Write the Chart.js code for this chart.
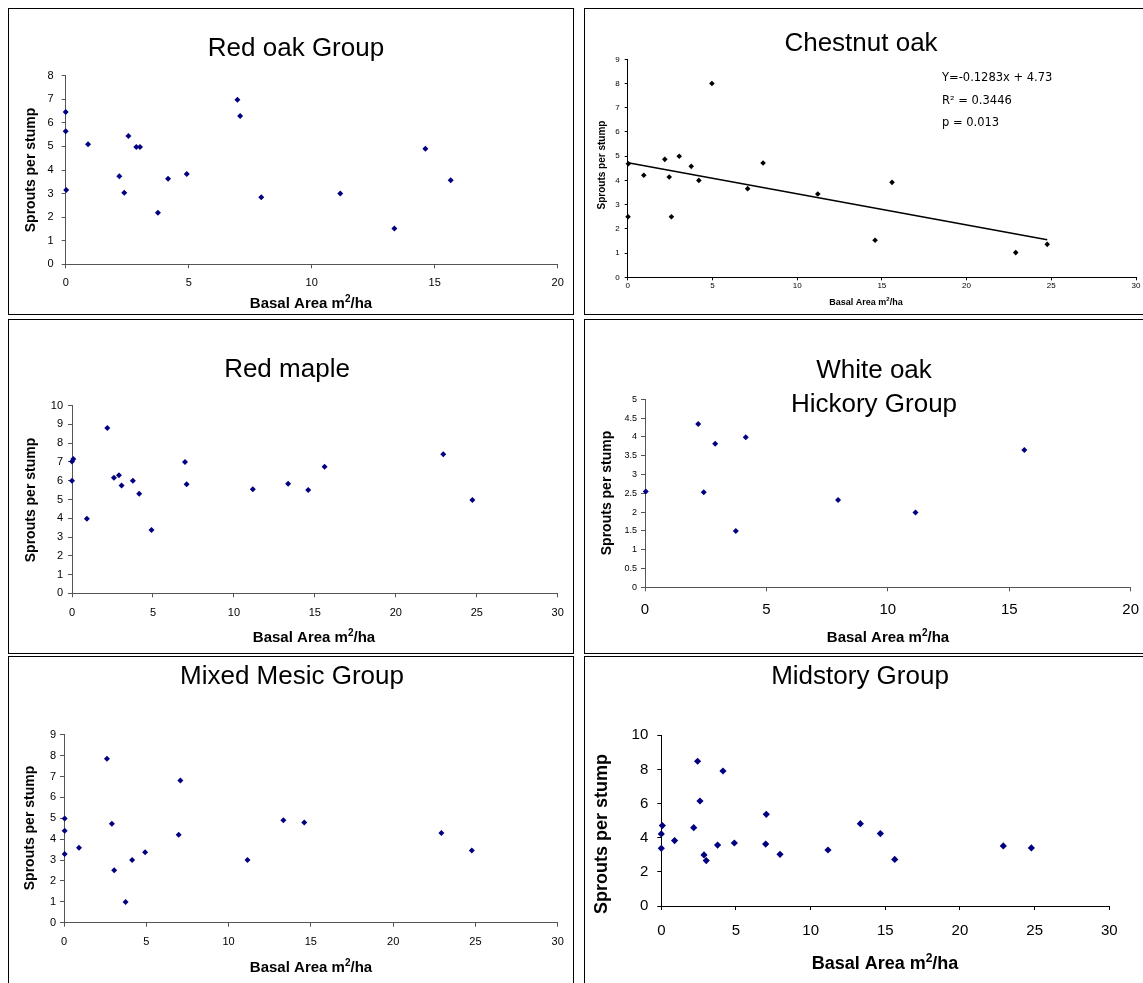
<!DOCTYPE html>
<html>
<head>
<meta charset="utf-8">
<script src="https://cdn.jsdelivr.net/npm/chart.js@4.4.1/dist/chart.umd.min.js"></script>
<style>
  html, body { margin: 0; padding: 0; background: #fff; overflow: hidden; }
  .box { position: absolute; border: 1px solid #000; box-sizing: border-box; }
  .box canvas { position: absolute; left: 0; top: 0; }
</style>
</head>
<body>
<div class="box" id="p1"><canvas></canvas></div>
<div class="box" id="p2"><canvas></canvas></div>
<div class="box" id="p3"><canvas></canvas></div>
<div class="box" id="p4"><canvas></canvas></div>
<div class="box" id="p5"><canvas></canvas></div>
<div class="box" id="p6"><canvas></canvas></div>
<script>
// basal area (x) and sprouts per stump (y)
const redOakX = [0, 0, 0.02, 0.91, 2.18, 2.38, 2.55, 2.87, 3.02, 3.75, 4.16, 4.92, 6.98, 7.09, 7.95, 11.16, 13.36, 14.62, 15.65]
const redOakY = [6.46, 5.64, 3.15, 5.09, 3.73, 3.04, 5.44, 4.98, 4.98, 2.19, 3.63, 3.83, 6.98, 6.29, 2.84, 3.0, 1.52, 4.9, 3.56]

const chestnutX = [0.02, 0.04, 0.95, 2.19, 2.45, 2.58, 3.04, 3.75, 4.2, 4.97, 7.08, 7.99, 11.22, 14.6, 15.6, 22.9, 24.76]
const chestnutY = [2.5, 4.69, 4.21, 4.87, 4.14, 2.5, 5.0, 4.58, 4.0, 8.0, 3.66, 4.72, 3.44, 1.53, 3.92, 1.02, 1.36]
const chestnutSlope = -0.1283
const chestnutIntercept = 4.73
const chestnutNotes = ['Y=-0.1283x + 4.73', 'R\u00b2 = 0.3446', 'p = 0.013']

const redMapleX = [0, 0.08, 0, 0.92, 2.18, 2.59, 2.9, 3.06, 3.76, 4.15, 4.91, 6.98, 7.08, 11.17, 13.35, 14.59, 15.6, 22.93, 24.73]
const redMapleY = [7.03, 7.16, 6.0, 3.98, 8.81, 6.16, 6.29, 5.75, 6.0, 5.31, 3.37, 7.0, 5.81, 5.54, 5.84, 5.51, 6.75, 7.41, 4.97]

const whiteOakX = [0.03, 2.19, 2.42, 2.89, 3.74, 4.15, 7.95, 11.14, 15.62]
const whiteOakY = [2.55, 4.34, 2.53, 3.82, 1.5, 3.99, 2.32, 1.99, 3.65]

const mixedX = [0.04, 0.04, 0.04, 0.91, 2.61, 2.91, 3.05, 3.74, 4.14, 4.93, 6.97, 7.07, 11.15, 13.33, 14.6, 22.93, 24.78]
const mixedY = [4.99, 4.4, 3.29, 3.59, 7.85, 4.74, 2.51, 0.99, 3.0, 3.37, 4.21, 6.81, 3.0, 4.91, 4.8, 4.29, 3.46]

const midX = [0, 0, 0.07, 0.89, 2.17, 2.43, 2.59, 2.86, 3.01, 3.77, 4.13, 4.89, 6.99, 7.03, 7.95, 11.16, 13.33, 14.67, 15.63, 22.9, 24.78]
const midY = [3.38, 4.22, 4.71, 3.83, 4.59, 8.48, 6.15, 2.99, 2.66, 3.57, 7.91, 3.69, 3.63, 5.37, 3.03, 3.28, 4.82, 4.24, 2.73, 3.52, 3.40]

const FONT = '"Liberation Sans", Arial, sans-serif'
const Y_TITLE = 'Sprouts per stump'

const toPoints = (xs, ys) => xs.map((x, i) => ({ x: x, y: ys[i] }))

// titles and notes drawn in page coordinates (converted with the box offset)
const decor = {
  id: 'decor',
  afterDraw(chart, args, o) {
    const ctx = chart.ctx
    const ox = o.ox, oy = o.oy
    ctx.save()
    ctx.fillStyle = '#000'
    ctx.textAlign = 'center'
    ctx.textBaseline = 'alphabetic'
    ctx.font = o.titleSize + 'px ' + FONT
    o.title.forEach((line, i) => ctx.fillText(line, o.titleX - ox, o.titleY - oy + i * o.titleLead))

    ctx.save()
    ctx.translate(o.yTitleX - ox, o.yTitleY - oy)
    ctx.rotate(-Math.PI / 2)
    ctx.font = 'bold ' + o.ySize + 'px ' + FONT
    ctx.textBaseline = 'middle'
    ctx.fillText(Y_TITLE, 0, 0)
    ctx.restore()

    // Basal Area m2/ha with a raised 2
    const big = 'bold ' + o.xSize + 'px ' + FONT
    const small = 'bold ' + Math.round(o.xSize * 0.65) + 'px ' + FONT
    ctx.textAlign = 'left'
    ctx.font = big
    const w1 = ctx.measureText('Basal Area m').width
    const w3 = ctx.measureText('/ha').width
    ctx.font = small
    const w2 = ctx.measureText('2').width
    let x = o.xTitleX - ox - (w1 + w2 + w3) / 2
    const y = o.xTitleY - oy
    ctx.font = big
    ctx.fillText('Basal Area m', x, y)
    x += w1
    ctx.font = small
    ctx.fillText('2', x, y - o.xSize * 0.4)
    x += w2
    ctx.font = big
    ctx.fillText('/ha', x, y)

    if (o.notes) {
      ctx.font = o.noteSize + 'px "DejaVu Sans", Verdana, sans-serif'
      o.notes.forEach((t, i) => ctx.fillText(t, o.noteX - ox, o.noteY - oy + i * o.noteLead))
    }
    ctx.restore()
  }
}

function makePanel(id, p) {
  const box = document.getElementById(id)
  box.style.left = p.box[0] + 'px'
  box.style.top = p.box[1] + 'px'
  box.style.width = p.box[2] + 'px'
  box.style.height = p.box[3] + 'px'
  const canvas = box.querySelector('canvas')
  const ox = p.box[0] + 1, oy = p.box[1] + 1
  const W = p.box[2] - 2, H = p.box[3] - 2
  canvas.width = W
  canvas.height = H
  const L = p.area[0] - ox, T = p.area[1] - oy, R = p.area[2] - ox, B = p.area[3] - oy
  const yW = 36
  const xH = p.xTick + p.xPad + p.tick + 2

  const datasets = [{
    type: 'scatter',
    data: toPoints(p.xs, p.ys),
    pointStyle: 'rectRot',
    pointRadius: p.radius,
    backgroundColor: p.color,
    borderColor: p.color,
    borderWidth: 0,
    clip: false
  }]
  if (p.trend) {
    const lo = Math.min(...p.xs), hi = Math.max(...p.xs)
    datasets.push({
      type: 'line',
      data: [lo, hi].map(x => ({ x: x, y: p.trend.b + p.trend.m * x })),
      borderColor: '#000',
      borderWidth: 1.6,
      pointRadius: 0,
      clip: false
    })
  }

  new Chart(canvas, {
    data: { datasets: datasets },
    plugins: [decor],
    options: {
      responsive: false,
      animation: false,
      events: [],
      layout: { padding: { left: L - yW, top: T, right: W - R, bottom: H - B - xH } },
      plugins: {
        legend: { display: false },
        title: { display: false },
        tooltip: { enabled: false },
        decor: Object.assign({ ox: ox, oy: oy }, p.decor)
      },
      scales: {
        x: {
          type: 'linear',
          min: 0,
          max: p.xMax,
          afterFit: s => { s.height = xH },
          ticks: { stepSize: 5, color: '#000', padding: p.xPad, maxRotation: 0, font: { family: FONT, size: p.xTick }, callback: v => String(v) },
          grid: { drawOnChartArea: false, tickLength: p.tick, color: p.axis },
          border: { color: p.axis, width: 1 }
        },
        y: {
          type: 'linear',
          min: 0,
          max: p.yMax,
          afterFit: s => { s.width = yW },
          ticks: { stepSize: p.yStep, color: '#000', padding: p.yPad, font: { family: FONT, size: p.yTick }, callback: v => String(v) },
          grid: { drawOnChartArea: false, tickLength: p.tick, color: p.axis },
          border: { color: p.axis, width: 1 }
        }
      }
    }
  })
}

const NAVY = '#000080'
const GREY = '#555'

makePanel('p1', {
  box: [8, 8, 566, 307], area: [65.7, 75.7, 557.7, 264.3],
  xs: redOakX, ys: redOakY, xMax: 20, yMax: 8, yStep: 1, xTick: 11, yTick: 11,
  xPad: 8, yPad: 8, tick: 4,
  color: NAVY, radius: 3, axis: GREY,
  decor: { title: ['Red oak Group'], titleX: 296, titleY: 56, titleSize: 26, titleLead: 0,
    yTitleX: 31, yTitleY: 170, ySize: 14, xTitleX: 311, xTitleY: 308, xSize: 15 }
})

makePanel('p2', {
  box: [584, 8, 566, 307], area: [627.7, 59.3, 1136, 277.3],
  xs: chestnutX, ys: chestnutY, xMax: 30, yMax: 9, yStep: 1, xTick: 8, yTick: 8,
  xPad: 1, yPad: 5, tick: 3,
  color: '#000', radius: 2.8, axis: '#000',
  trend: { m: chestnutSlope, b: chestnutIntercept },
  decor: { title: ['Chestnut oak'], titleX: 861, titleY: 51, titleSize: 26, titleLead: 0,
    yTitleX: 602, yTitleY: 165, ySize: 10, xTitleX: 866, xTitleY: 305, xSize: 9,
    notes: chestnutNotes, noteX: 942, noteY: 81, noteLead: 22.5, noteSize: 11.5 }
})

makePanel('p3', {
  box: [8, 319, 566, 335], area: [72, 405.7, 557.7, 593.3],
  xs: redMapleX, ys: redMapleY, xMax: 30, yMax: 10, yStep: 1, xTick: 11, yTick: 11,
  xPad: 9, yPad: 5, tick: 4,
  color: NAVY, radius: 3, axis: GREY,
  decor: { title: ['Red maple'], titleX: 287, titleY: 377, titleSize: 26, titleLead: 0,
    yTitleX: 31, yTitleY: 500, ySize: 14, xTitleX: 314, xTitleY: 642, xSize: 15 }
})

makePanel('p4', {
  box: [584, 319, 566, 335], area: [645, 399.3, 1132.7, 587.3],
  xs: whiteOakX, ys: whiteOakY, xMax: 20, yMax: 5, yStep: 0.5, xTick: 15, yTick: 9,
  xPad: 10, yPad: 4, tick: 4,
  color: NAVY, radius: 3, axis: GREY,
  decor: { title: ['White oak', 'Hickory Group'], titleX: 874, titleY: 378, titleSize: 26, titleLead: 34,
    yTitleX: 607, yTitleY: 493, ySize: 14, xTitleX: 888, xTitleY: 642, xSize: 15 }
})

makePanel('p5', {
  box: [8, 656, 566, 340], area: [64, 734.7, 557.7, 922.7],
  xs: mixedX, ys: mixedY, xMax: 30, yMax: 9, yStep: 1, xTick: 11, yTick: 11,
  xPad: 9, yPad: 4, tick: 4,
  color: NAVY, radius: 3, axis: GREY,
  decor: { title: ['Mixed Mesic Group'], titleX: 292, titleY: 684, titleSize: 26, titleLead: 0,
    yTitleX: 30.5, yTitleY: 828, ySize: 14, xTitleX: 311, xTitleY: 972, xSize: 15 }
})

makePanel('p6', {
  box: [584, 656, 566, 340], area: [661.3, 735.3, 1109.3, 906],
  xs: midX, ys: midY, xMax: 30, yMax: 10, yStep: 2, xTick: 15, yTick: 15,
  xPad: 12, yPad: 9, tick: 4,
  color: NAVY, radius: 3.6, axis: '#000',
  decor: { title: ['Midstory Group'], titleX: 860, titleY: 684, titleSize: 26, titleLead: 0,
    yTitleX: 602, yTitleY: 834, ySize: 18, xTitleX: 885, xTitleY: 969, xSize: 18 }
})
</script>
</body>
</html>
